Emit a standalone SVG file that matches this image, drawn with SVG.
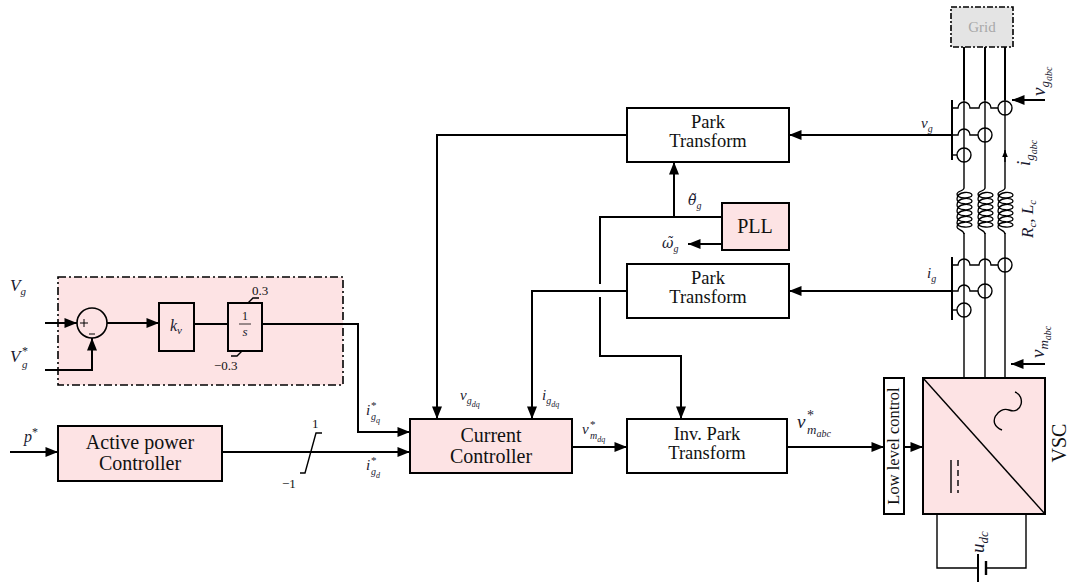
<svg xmlns="http://www.w3.org/2000/svg" width="1068" height="582" viewBox="0 0 1068 582">
<defs>
<marker id="a" viewBox="0 0 10 8" refX="10" refY="4" markerWidth="13" markerHeight="10" markerUnits="userSpaceOnUse" orient="auto"><path d="M0,0 L10,4 L0,8 z" fill="#000"/></marker>
<marker id="s" viewBox="0 0 10 8" refX="10" refY="4" markerWidth="7" markerHeight="6" markerUnits="userSpaceOnUse" orient="auto"><path d="M0,0 L10,4 L0,8 z" fill="#000"/></marker>
</defs>
<style>
.b{fill:#fff;stroke:#000;stroke-width:2}
.p{fill:#fde3e4;stroke:#000;stroke-width:2}
.w{fill:none;stroke:#000;stroke-width:2}
.t{fill:none;stroke:#000;stroke-width:1.4}
.c{fill:#fff;stroke:#000;stroke-width:1.4}
text{font-family:"Liberation Serif","Times New Roman","DejaVu Serif",serif}
.txt{fill:#111;text-anchor:middle}
.m{font-style:italic;fill:#1a1a30}
.n{fill:#111}
.dv{font-family:"DejaVu Serif",serif}
</style>
<rect width="1068" height="582" fill="#fff"/>

<g id="voltage-controller">
<rect x="58" y="277" width="285" height="108" fill="#fde3e4" stroke="#000" stroke-width="1.6" stroke-dasharray="8,3,2,3"/>
</g>
<g id="sum">
<circle cx="92" cy="323" r="15" fill="none" stroke="#000" stroke-width="1.6"/>
<path d="M80 323 H88 M84 319 V327 M89 334 H95" stroke="#000" stroke-width="1"/>
</g>
<g id="kv">
<rect x="159" y="303" width="35" height="48" class="p"/>
<text x="170" y="331" class="m" style="font-size:16px">k<tspan style="font-size:11px" dy="3">v</tspan></text>
</g>
<g id="integrator">
<rect x="228" y="303" width="34" height="48" class="p"/>
<text x="245" y="320" class="n" text-anchor="middle" style="font-size:12px">1</text>
<path d="M239 324 H251" stroke="#000" stroke-width="0.8"/>
<text x="245" y="336" class="m" text-anchor="middle" style="font-size:13px">s</text>
<path d="M248 303 L253 298 H259 M242 351 L237 356 H231" class="t"/>
<text x="252" y="295" class="n" style="font-size:13px">0.3</text>
<text x="214" y="370" class="n" style="font-size:13px">−0.3</text>
</g>
<g id="active-power-controller">
<rect x="58" y="426" width="164" height="55" class="p"/>
<text x="140" y="449" class="txt" style="font-size:20px">Active power</text>
<text x="140" y="470" class="txt" style="font-size:20px">Controller</text>
</g>
<g id="current-controller">
<rect x="410" y="419" width="162" height="54" class="p"/>
<text x="491" y="442" class="txt" style="font-size:20px">Current</text>
<text x="491" y="463" class="txt" style="font-size:20px">Controller</text>
</g>
<g id="inv-park">
<rect x="627" y="419" width="160" height="54" class="b"/>
<text x="707" y="440" class="txt" style="font-size:18.5px">Inv. Park</text>
<text x="707" y="459" class="txt" style="font-size:18.5px">Transform</text>
</g>
<g id="park-top">
<rect x="627" y="108" width="162" height="54" class="b"/>
<text x="708" y="128" class="txt" style="font-size:18.5px">Park</text>
<text x="708" y="147" class="txt" style="font-size:18.5px">Transform</text>
</g>
<g id="park-bottom">
<rect x="627" y="264" width="162" height="54" class="b"/>
<text x="708" y="284" class="txt" style="font-size:18.5px">Park</text>
<text x="708" y="303" class="txt" style="font-size:18.5px">Transform</text>
</g>
<g id="pll">
<rect x="722" y="203" width="67" height="47" class="p"/>
<text x="755" y="233" class="txt" style="font-size:20px">PLL</text>
</g>
<g id="low-level-control">
<rect x="884" y="378" width="20" height="136" class="b"/>
<text transform="translate(899,446) rotate(-90)" class="txt" style="font-size:16.5px">Low level control</text>
</g>
<g id="vsc">
<rect x="923" y="378" width="122" height="136" class="p"/>
<path d="M923 378 L1045 514" class="t"/>
<path d="M1002 430 C986 424,998 406,1009 410 C1022 415,1026 396,1015 392" class="t"/>
<path d="M951 460 V493" class="t"/>
<path d="M958 460 V493" stroke="#000" stroke-width="1.4" stroke-dasharray="6,4"/>
<text transform="translate(1066,443) rotate(-90)" class="txt" style="font-size:20px">VSC</text>
</g>
<g id="grid">
<rect x="951" y="7" width="62" height="40" fill="#e4e4e4" stroke="#000" stroke-width="1.6" stroke-dasharray="6,2,2,2"/>
<text x="982" y="32" text-anchor="middle" style="font-size:15px;fill:#a8a8a8">Grid</text>
</g>
<g id="phase-lines">
<path d="M964 47 V100 M985 47 V100 M1005 47 V100" class="w"/>
<path d="M964 100 V378 M985 100 V378 M1005 100 V378" class="t"/>
</g>
<g id="inductors" fill="none" stroke="#000" stroke-width="1.3">
<g id="coil-a"><rect x="956" y="188" width="16" height="45" fill="#fff" stroke="none"/>
<path d="M964 188 C964 191,957 191,957 194 C957 199,972 199,972 195 C972 191,957 191,957 199 C957 205,972 205,972 201 C972 197,957 197,957 205 C957 211,972 211,972 207 C972 203,957 203,957 211 C957 217,972 217,972 213 C972 209,957 209,957 217 C957 223,972 223,972 219 C972 215,957 215,957 223 C957 228,972 228,972 225 C972 221,957 221,957 227 C957 230,964 230,964 234"/></g>
<use href="#coil-a" x="21"/>
<use href="#coil-a" x="41"/>
</g>
<g id="voltage-sensors">
<path d="M952 100 V160" class="w"/>
<path d="M952 108 H958 A6 6 0 0 1 970 108 H979 A6 6 0 0 1 991 108 H998" class="t"/>
<path d="M952 135 H958 A6 6 0 0 1 970 135 H978" class="t"/>
<path d="M952 155 H957" class="t"/>
<circle cx="1005" cy="108" r="7" class="c"/>
<circle cx="985" cy="135" r="7" class="c"/>
<circle cx="964" cy="155" r="7" class="c"/>
<path d="M1005 101 V115 M985 128 V142 M964 148 V162" class="t"/>
</g>
<g id="current-sensors">
<path d="M952 257 V320" class="w"/>
<path d="M952 265 H958 A6 6 0 0 1 970 265 H979 A6 6 0 0 1 991 265 H998" class="t"/>
<path d="M952 291 H958 A6 6 0 0 1 970 291 H978" class="t"/>
<path d="M952 310 H957" class="t"/>
<circle cx="1005" cy="265" r="7" class="c"/>
<circle cx="985" cy="291" r="7" class="c"/>
<circle cx="964" cy="310" r="7" class="c"/>
<path d="M1005 258 V272 M985 284 V298 M964 303 V317" class="t"/>
</g>
<g id="dc-link">
<path d="M937 514 V568 H978 M986 568 H1026 V514" class="t"/>
<path d="M978 554 V582" stroke="#000" stroke-width="2"/>
<path d="M986 561 V575" stroke="#000" stroke-width="2.4"/>
</g>

<g id="connectors" class="w" fill="none">
<path d="M45 323 H77" marker-end="url(#a)"/>
<path d="M45 370 H92 V338" marker-end="url(#a)"/>
<path d="M107 323 H159" marker-end="url(#a)"/>
<path d="M194 324 H228"/>
<path d="M262 324 H358 V432 H410" marker-end="url(#a)"/>
<path d="M10 452 H58" marker-end="url(#a)"/>
<path d="M222 452 H410" marker-end="url(#a)"/>
<path d="M300 473 H305 L316 433 H322" stroke-width="1.4"/>
<path d="M627 135 H437 V419" marker-end="url(#a)"/>
<path d="M627 291 H532 V419" marker-end="url(#a)"/>
<path d="M722 217 H674 V162" marker-end="url(#a)"/>
<path d="M674 217 H600 V284"/>
<path d="M600 297 V356 H681 V419" marker-end="url(#a)"/>
<path d="M722 244 H688" marker-end="url(#a)"/>
<path d="M572 447 H627" marker-end="url(#a)"/>
<path d="M787 447 H884" marker-end="url(#a)"/>
<path d="M904 447 H923" marker-end="url(#a)"/>
<path d="M952 135 H789" marker-end="url(#a)"/>
<path d="M952 291 H789" marker-end="url(#a)"/>
<path d="M1045 100 H1012" marker-end="url(#a)"/>
<path d="M1045 364 H1011" marker-end="url(#a)"/>
<path d="M1005 162 V150" stroke-width="1.4" marker-end="url(#s)"/>
</g>

<g id="labels">
<text x="10" y="291" class="m" style="font-size:17px">V<tspan style="font-size:11px" dy="4">g</tspan></text>
<text x="10" y="362" class="m" style="font-size:17px">V<tspan x="22" dy="-7" style="font-size:12px;font-style:normal">*</tspan><tspan x="22" dy="13" style="font-size:11px">g</tspan></text>
<text x="24" y="442" class="m" style="font-size:16px">p<tspan style="font-size:12px;font-style:normal" dy="-6">*</tspan></text>
<text x="312" y="428" class="n" style="font-size:13px">1</text>
<text x="282" y="488" class="n" style="font-size:13px">−1</text>
<text x="366" y="415" class="m" style="font-size:15px">i<tspan x="371" dy="-6" style="font-size:11px;font-style:normal">*</tspan><tspan x="371" dy="11" style="font-size:10px">g</tspan><tspan dy="3" style="font-size:8px">q</tspan></text>
<text x="366" y="470" class="m" style="font-size:15px">i<tspan x="371" dy="-6" style="font-size:11px;font-style:normal">*</tspan><tspan x="371" dy="11" style="font-size:10px">g</tspan><tspan dy="3" style="font-size:8px">d</tspan></text>
<text x="460" y="400" class="m" style="font-size:15px">v<tspan style="font-size:10px" dy="4">g</tspan><tspan style="font-size:8px" dy="3">dq</tspan></text>
<text x="542" y="400" class="m" style="font-size:15px">i<tspan style="font-size:10px" dy="4">g</tspan><tspan style="font-size:8px" dy="3">dq</tspan></text>
<text x="582" y="434" class="m" style="font-size:15px">v<tspan x="590" dy="-6" style="font-size:11px;font-style:normal">*</tspan><tspan x="590" dy="11" style="font-size:10px">m</tspan><tspan dy="3" style="font-size:8px">dq</tspan></text>
<text x="797" y="428" class="m" style="font-size:19px">v<tspan x="807" dy="-8" style="font-size:14px;font-style:normal">*</tspan><tspan x="807" dy="14" style="font-size:13px">m</tspan><tspan dy="3" style="font-size:10px">abc</tspan></text>
<text x="688" y="205" class="m" style="font-size:14px"><tspan class="dv">θ̃</tspan><tspan style="font-size:10px" dy="4">g</tspan></text>
<text x="662" y="248" class="m" style="font-size:14px"><tspan class="dv">ω̃</tspan><tspan style="font-size:10px" dy="4">g</tspan></text>
<text x="921" y="128" class="m" style="font-size:15px">v<tspan style="font-size:10px" dy="4">g</tspan></text>
<text x="927" y="278" class="m" style="font-size:15px">i<tspan style="font-size:10px" dy="4">g</tspan></text>
<text transform="translate(1045,96) rotate(-90)" class="m" style="font-size:19px">v<tspan style="font-size:13px" dy="4">g</tspan><tspan style="font-size:10px" dy="3">abc</tspan></text>
<text transform="translate(1030,166) rotate(-90)" class="m" style="font-size:19px">i<tspan style="font-size:13px" dy="4">g</tspan><tspan style="font-size:10px" dy="3">abc</tspan></text>
<text transform="translate(1033,238) rotate(-90)" class="m" style="font-size:17px">R<tspan style="font-size:11px" dy="3">c</tspan><tspan dy="-3">, L</tspan><tspan style="font-size:11px" dy="3">c</tspan></text>
<text transform="translate(1044,358) rotate(-90)" class="m" style="font-size:19px">v<tspan style="font-size:13px" dy="4">m</tspan><tspan style="font-size:10px" dy="3">abc</tspan></text>
<text transform="translate(984,553) rotate(-90)" class="m" style="font-size:19px">u<tspan style="font-size:13px" dy="4">dc</tspan></text>
</g>
</svg>
